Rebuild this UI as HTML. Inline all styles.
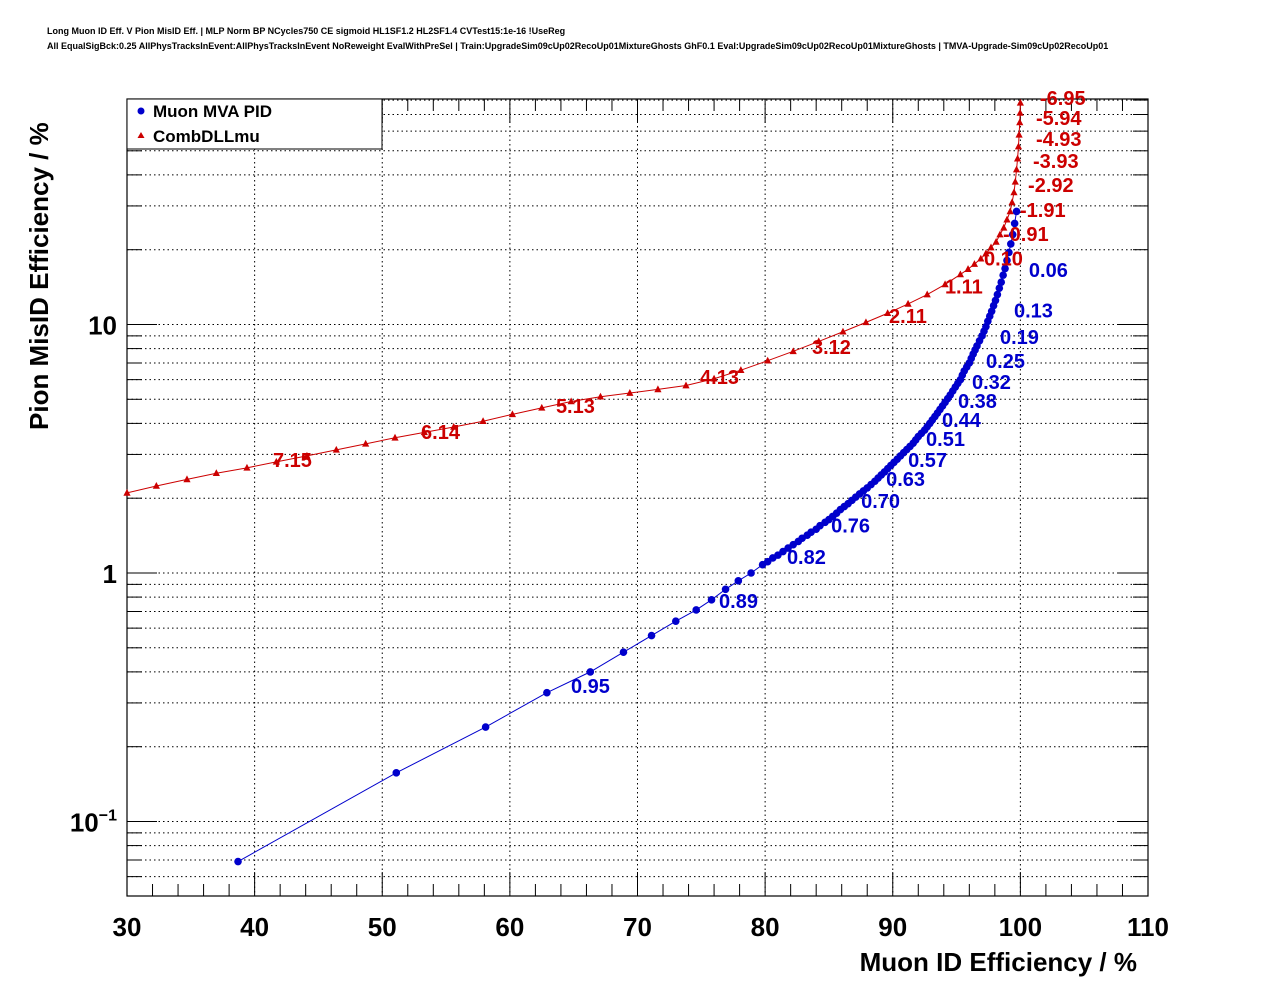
<!DOCTYPE html>
<html><head><meta charset="utf-8">
<style>
html,body{margin:0;padding:0;background:#fff;}
svg{display:block;font-family:"Liberation Sans",Arial,sans-serif;}
</style></head>
<body>
<svg id="chart" width="1276" height="996" viewBox="0 0 1276 996" xmlns="http://www.w3.org/2000/svg">
<rect width="1276" height="996" fill="#fff"/>
<text x="47" y="34" font-size="9" font-weight="bold">Long Muon ID Eff. V Pion MisID Eff. | MLP Norm BP NCycles750 CE sigmoid HL1SF1.2 HL2SF1.4 CVTest15:1e-16 !UseReg</text>
<text x="47" y="49" font-size="9" font-weight="bold">All EqualSigBck:0.25 AllPhysTracksInEvent:AllPhysTracksInEvent NoReweight EvalWithPreSel | Train:UpgradeSim09cUp02RecoUp01MixtureGhosts GhF0.1 Eval:UpgradeSim09cUp02RecoUp01MixtureGhosts | TMVA-Upgrade-Sim09cUp02RecoUp01</text>
<g id="grid"></g>
<g id="axes"></g>
<g id="series"></g>
<g id="labels"></g>
<g>
<rect x="127" y="99" width="255" height="50" fill="#fff" stroke="#000" stroke-width="1"/>
<g>
<circle cx="141" cy="111" r="3.5" fill="#0000cc"/>
<text x="153" y="117" font-size="17" font-weight="bold">Muon MVA PID</text>
</g>
<g>
<polygon points="141,132 137.5,138 144.5,138" fill="#cc0000"/>
<text x="153" y="142" font-size="17" font-weight="bold">CombDLLmu</text>
</g>
</g>
<text x="1137" y="971" text-anchor="end" font-size="26" font-weight="bold">Muon ID Efficiency / %</text>
<text transform="translate(48,430) rotate(-90)" x="0" y="0" font-size="26" font-weight="bold">Pion MisID Efficiency / %</text>
</svg>
<script>
const xTicks=[30,40,50,60,70,80,90,100,110];
const yDecades=[0.1,1,10];
const yDecadeLabels=["10^-1","1","10"];
const muonX=[38.7,51.1,58.1,62.9,66.3,68.9,71.1,73.0,74.6,75.8,76.9,77.9,78.9,79.8,80.2,80.6,81.0,81.4,81.8,82.2,82.6,82.9,83.3,83.6,84.0,84.3,84.7,85.0,85.3,85.6,85.9,86.2,86.5,86.8,87.1,87.4,87.7,88.0,88.3,88.6,88.85,89.1,89.35,89.6,89.85,90.1,90.35,90.6,90.85,91.1,91.35,91.6,91.8,92.0,92.25,92.5,92.7,92.9,93.1,93.3,93.5,93.7,93.9,94.1,94.3,94.5,94.7,94.9,95.1,95.3,95.45,95.6,95.8,96.0,96.15,96.3,96.45,96.6,96.8,97.0,97.15,97.3,97.45,97.6,97.75,97.9,98.05,98.2,98.35,98.5,98.65,98.8,98.95,99.1,99.25,99.4,99.55,99.7];
const muonY=[0.069,0.157,0.24,0.33,0.40,0.48,0.56,0.64,0.71,0.78,0.86,0.93,1.00,1.08,1.11,1.15,1.18,1.22,1.26,1.30,1.34,1.38,1.42,1.46,1.50,1.55,1.60,1.64,1.69,1.74,1.80,1.85,1.90,1.96,2.02,2.08,2.14,2.20,2.27,2.34,2.41,2.48,2.55,2.63,2.71,2.79,2.87,2.96,3.05,3.14,3.23,3.33,3.43,3.54,3.65,3.76,3.88,4.00,4.13,4.26,4.40,4.55,4.70,4.86,5.03,5.2,5.4,5.6,5.8,6.0,6.25,6.5,6.75,7.0,7.3,7.6,7.9,8.2,8.6,9.0,9.4,9.8,10.3,10.8,11.3,11.9,12.5,13.2,14.0,14.8,15.8,16.8,18.1,19.5,21.1,23.0,25.5,28.5];
const dllX=[30,32.3,34.7,37.0,39.4,41.7,44.1,46.4,48.7,51.0,53.3,55.6,57.9,60.2,62.5,64.8,67.1,69.4,71.6,73.8,76.0,78.1,80.2,82.2,84.2,86.1,87.9,89.6,91.2,92.7,94.1,95.3,95.9,96.4,96.9,97.3,97.7,98.1,98.4,98.7,98.95,99.2,99.35,99.5,99.6,99.7,99.78,99.85,99.9,99.95,99.98,100];
const dllY=[2.10,2.24,2.38,2.52,2.65,2.80,2.96,3.13,3.31,3.50,3.68,3.87,4.08,4.35,4.62,4.90,5.12,5.30,5.48,5.68,6.05,6.55,7.15,7.80,8.55,9.35,10.2,11.1,12.1,13.2,14.5,15.9,16.7,17.5,18.4,19.3,20.4,21.5,23.0,24.5,26.4,28.5,31.0,34,37.5,42,46.5,52,58,65,71,78];
const muonLabelText=["0.06","0.13","0.19","0.25","0.32","0.38","0.44","0.51","0.57","0.63","0.70","0.76","0.82","0.89","0.95"];
const muonLabelX=[100.67,99.50,98.40,97.31,96.21,95.11,93.86,92.61,91.20,89.48,87.52,85.17,81.71,76.39,64.79];
const muonLabelY=[16.6,11.4,8.9,7.13,5.87,4.92,4.13,3.46,2.85,2.39,1.95,1.55,1.16,0.771,0.351];
const dllLabelText=["-6.95","-5.94","-4.93","-3.93","-2.92","-1.91","-0.91","0.10","1.11","2.11","3.12","4.13","5.13","6.14","7.15"];
const dllLabelX=[101.54,101.22,101.22,100.99,100.60,99.97,98.64,97.15,94.09,89.71,83.67,74.90,63.61,53.04,41.44];
const dllLabelY=[81.5,67.7,55.7,45.5,36.4,28.9,23.1,18.4,14.2,10.8,8.12,6.15,4.70,3.69,2.85];

const L=127,R=1148,T=99,B=896;
const xMin=30,xMax=110,yTop=80.5,yBot=0.0522;
const decadePx=248.5, y10px=324.5;
function sx(v){return L+(v-xMin)/(xMax-xMin)*(R-L);}
function sy(v){return y10px-(Math.log10(v)-1)*decadePx;}
const NS="http://www.w3.org/2000/svg";
function mk(tag,parent,attrs){const e=document.createElementNS(NS,tag);for(const k in attrs)e.setAttribute(k,attrs[k]);parent.appendChild(e);return e;}
const grid=document.getElementById('grid'),axes=document.getElementById('axes'),ser=document.getElementById('series'),lab=document.getElementById('labels');

for(let d=-2;d<=1;d++){
  for(let m=1;m<=9;m++){
    const v=m*Math.pow(10,d);
    if(v<yBot||v>yTop)continue;
    const y=sy(v);
    const g=mk('line',grid,{x1:L,x2:R,y1:y,y2:y,stroke:'#000','stroke-width':1,'stroke-dasharray':'1.5,3'});
    
    
    const len=m===1?30:15;
    const t1=mk('line',axes,{x1:L,x2:L+len,y1:y,y2:y,stroke:'#000','stroke-width':1});
    
    
    const t2=mk('line',axes,{x1:R,x2:R-len,y1:y,y2:y,stroke:'#000','stroke-width':1});
    
    
  }
}
for(let v=xMin;v<=xMax;v+=2){
  const x=sx(v);const major=(v%10===0);
  if(major&&v>xMin&&v<xMax){
    const g=mk('line',grid,{x1:x,x2:x,y1:T,y2:B,stroke:'#000','stroke-width':1,'stroke-dasharray':'1.5,3'});
    
    
  }
  const len=major?24:12;
  const t1=mk('line',axes,{x1:x,x2:x,y1:B,y2:B-len,stroke:'#000','stroke-width':1});
  
  
  const t2=mk('line',axes,{x1:x,x2:x,y1:T,y2:T+len,stroke:'#000','stroke-width':1});
  
  
}
const frame=mk('rect',axes,{x:L,y:T,width:R-L,height:B-T,fill:'none',stroke:'#000','stroke-width':1.2});


xTicks.forEach(v=>{
  const t=mk('text',axes,{x:sx(v),y:936,'text-anchor':'middle','font-size':26,'font-weight':'bold'});
  t.textContent=String(v);
  
  
});
yDecades.forEach((v,i)=>{
  const t=mk('text',axes,{x:117,y:sy(v)+10,'text-anchor':'end','font-size':26,'font-weight':'bold'});
  const s=yDecadeLabels[i];
  if(s.indexOf('^')>=0){
    const p=s.split('^');
    t.textContent=p[0];
    const sup=mk('tspan',t,{dy:-11,'font-size':16});
    sup.textContent=p[1].replace('-','\u2212');
  } else t.textContent=s;
  
  
});

function drawSeries(xs,ys,color,shape,name){
  const pts=xs.map((x,i)=>sx(x)+','+sy(ys[i])).join(' ');
  const pl=mk('polyline',ser,{points:pts,fill:'none',stroke:color,'stroke-width':1});
  
  
  xs.forEach((x,i)=>{
    const cx=sx(x),cy=sy(ys[i]);
    let m;
    if(shape==='circle') m=mk('circle',ser,{cx:cx,cy:cy,r:3.8,fill:color});
    else m=mk('polygon',ser,{points:`${cx},${cy-4} ${cx-3.6},${cy+2.8} ${cx+3.6},${cy+2.8}`,fill:color});
    
    
  });
}
drawSeries(dllX,dllY,'#cc0000','tri','combdllmu');
drawSeries(muonX,muonY,'#0000cc','circle','muon-mva');

function drawLabels(txt,xs,ys,color,name){
  txt.forEach((s,i)=>{
    const t=mk('text',lab,{x:sx(xs[i]),y:sy(ys[i])+7,'font-size':20,'font-weight':'bold',fill:color});
    t.textContent=s;
    
    
  });
}
drawLabels(dllLabelText,dllLabelX,dllLabelY,'#cc0000','combdllmu');
drawLabels(muonLabelText,muonLabelX,muonLabelY,'#0000cc','muon-mva');
</script>
</body></html>
